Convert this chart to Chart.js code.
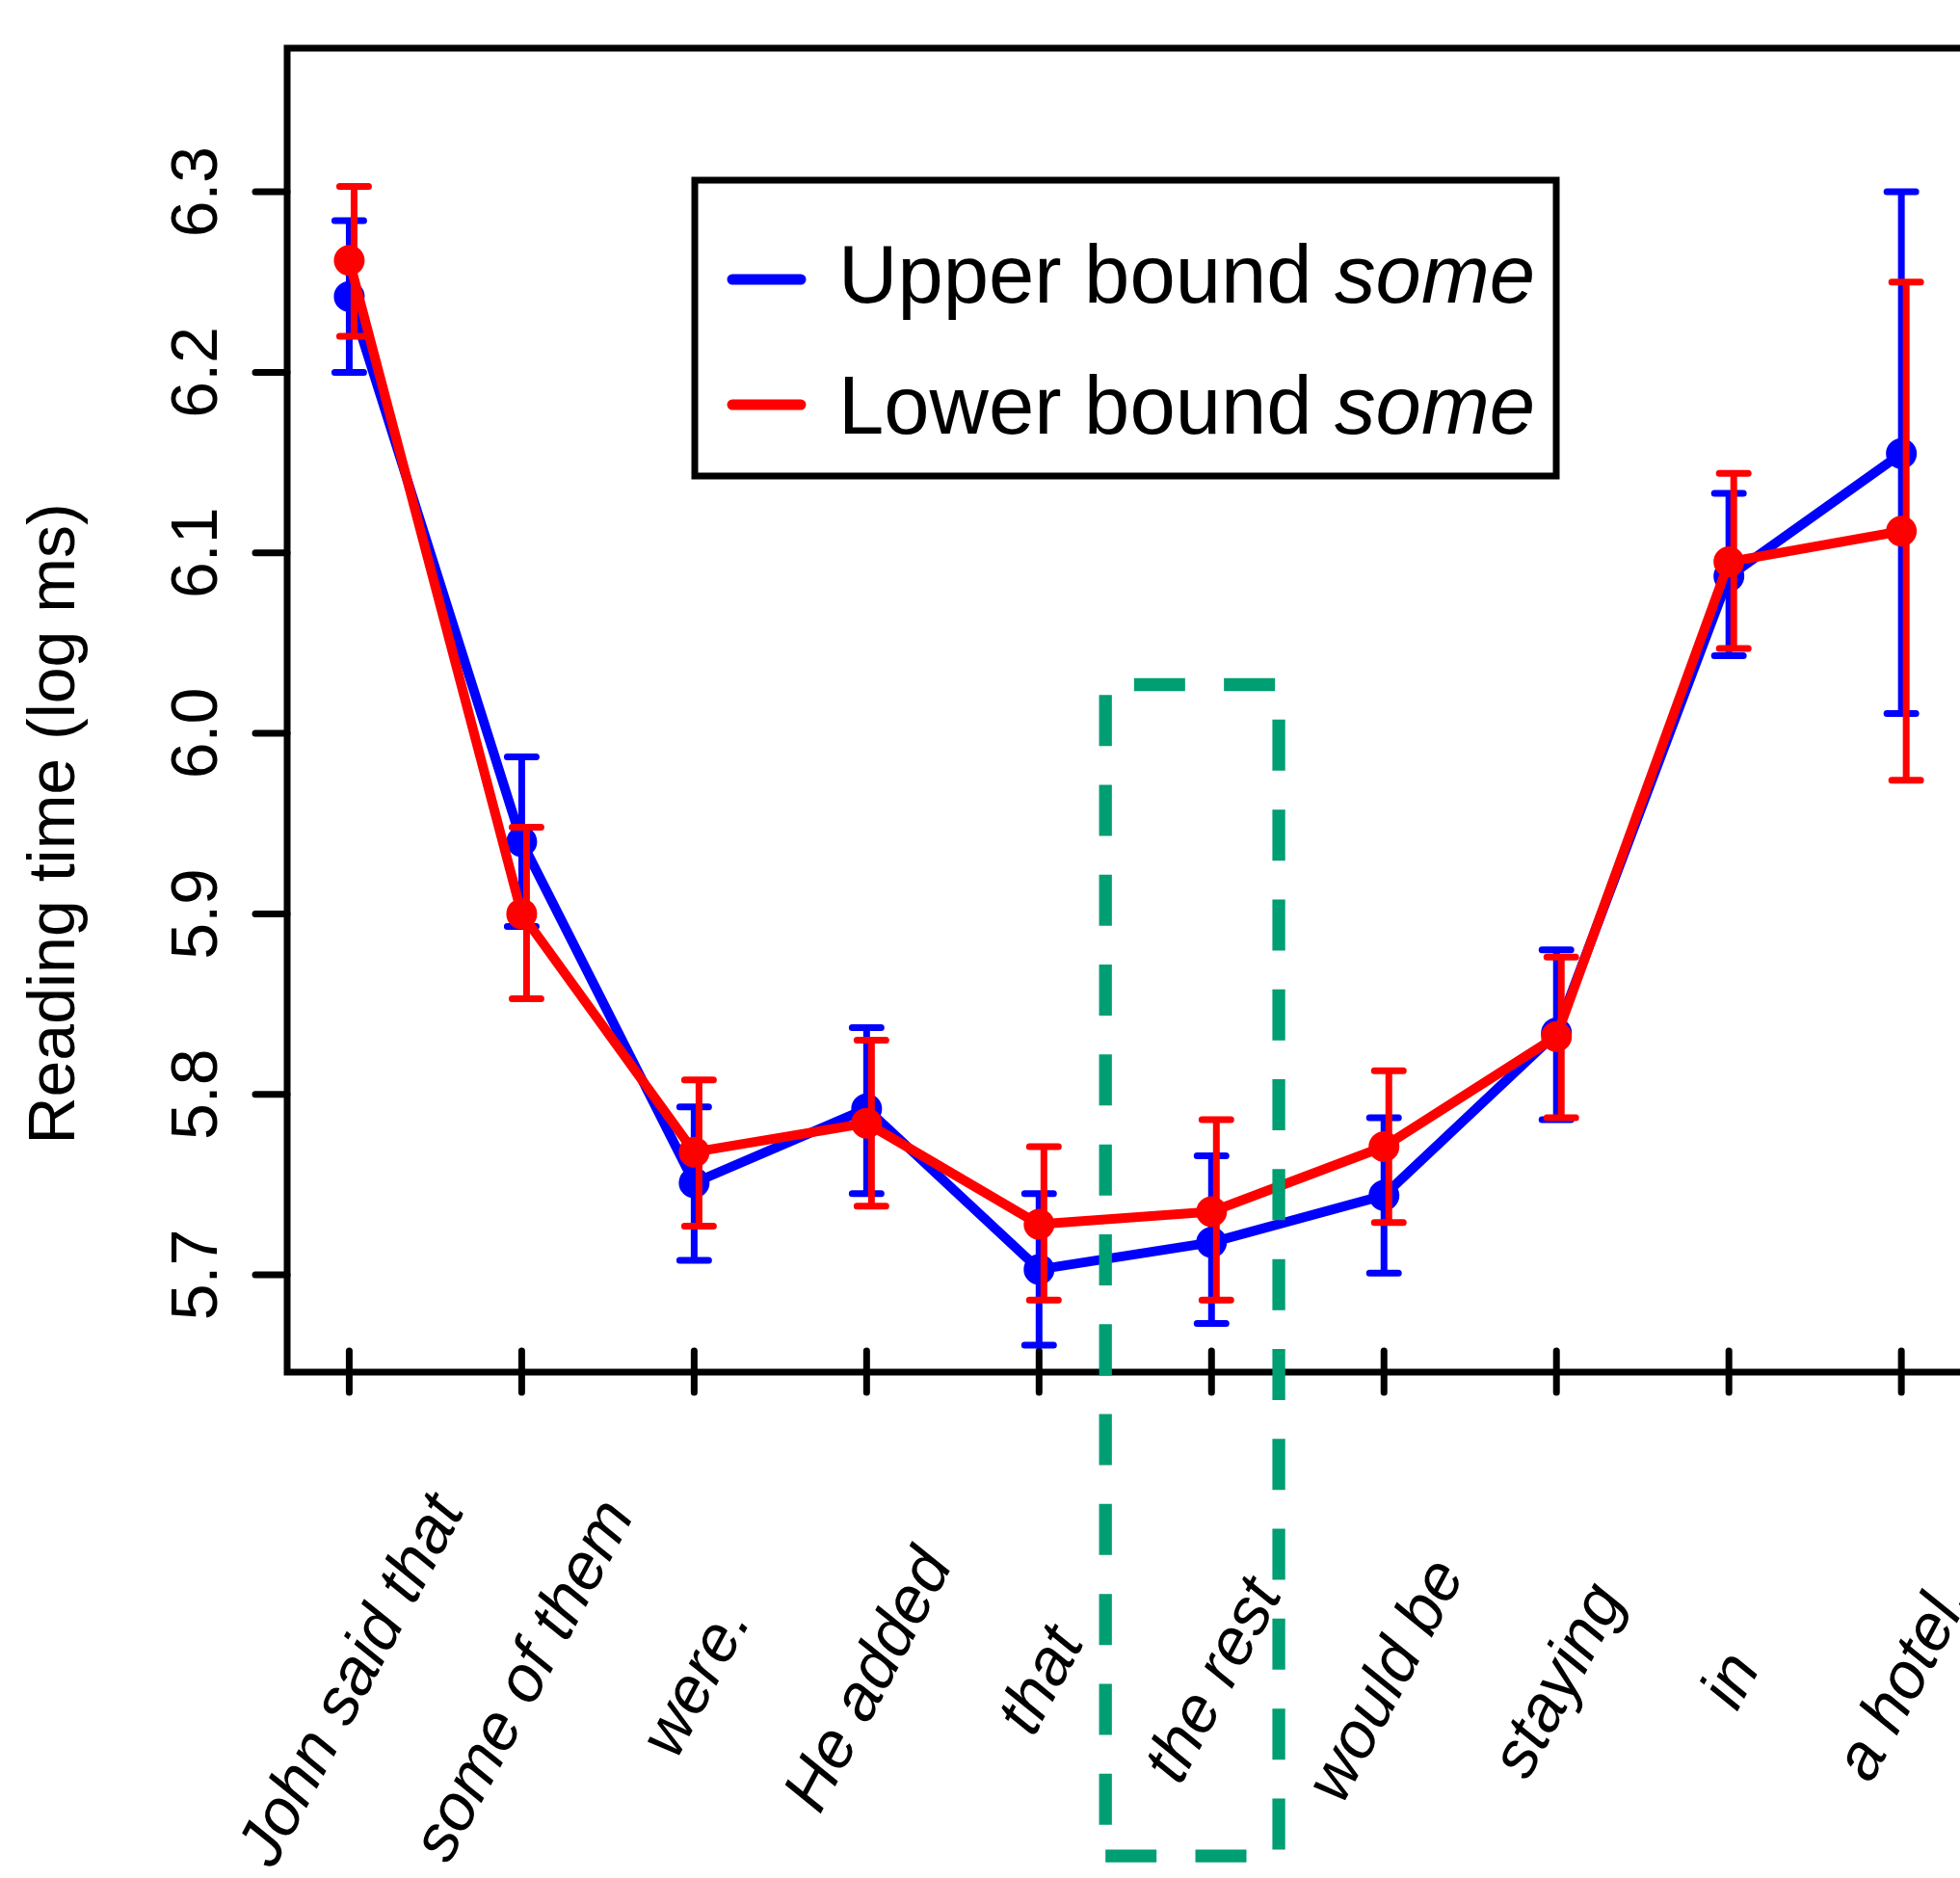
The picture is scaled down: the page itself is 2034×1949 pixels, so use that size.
<!DOCTYPE html>
<html>
<head>
<meta charset="utf-8">
<script src="https://cdn.jsdelivr.net/npm/chart.js@4.4.0/dist/chart.umd.min.js"></script>
<style>
  html, body { margin: 0; padding: 0; background: #fff; }
  #chart { display: block; }
</style>
</head>
<body>
<canvas id="chart" width="2034" height="1949"></canvas>
<script>
// sentence regions along the x axis
const regions = ["John said that", "some of them", "were.", "He added", "that",
                 "the rest", "would be", "staying", "in", "a hotel."];
const regionPos = [1, 2, 3, 4, 5, 6, 7, 8, 9, 10];

// Upper bound "some" (blue)
const upperMean = [6.242, 5.940, 5.751, 5.792, 5.703, 5.718, 5.744, 5.834, 6.087, 6.155];
const upperLo   = [6.200, 5.893, 5.708, 5.745, 5.661, 5.673, 5.701, 5.786, 6.043, 6.011];
const upperHi   = [6.284, 5.987, 5.793, 5.837, 5.745, 5.766, 5.787, 5.880, 6.133, 6.300];

// Lower bound "some" (red)
const lowerMean = [6.262, 5.900, 5.768, 5.784, 5.728, 5.735, 5.771, 5.832, 6.095, 6.112];
const lowerLo   = [6.220, 5.853, 5.727, 5.738, 5.686, 5.686, 5.729, 5.787, 6.047, 5.974];
const lowerHi   = [6.303, 5.948, 5.808, 5.830, 5.771, 5.786, 5.813, 5.876, 6.144, 6.250];

const yTicks = [5.7, 5.8, 5.9, 6.0, 6.1, 6.2, 6.3];
const yTickLabels = ["5.7", "5.8", "5.9", "6.0", "6.1", "6.2", "6.3"];

// critical region marked with the dashed box
const boxX = [5.385, 6.39];
const boxY = [5.378, 6.027];

const FONT = '"Liberation Sans", Arial, Helvetica, sans-serif';
const BLUE = "#0000ff";
const RED = "#ff0000";
const GREEN = "#009e73";

// error bars, drawn right after their own dataset
const errorBars = {
  id: "errorBars",
  afterDatasetDraw(chart, args) {
    const ds = chart.data.datasets[args.index];
    const { x, y } = chart.scales;
    const ctx = chart.ctx;
    ctx.save();
    ctx.strokeStyle = ds.borderColor;
    ctx.lineWidth = 7;
    ctx.lineCap = "round";
    ds.data.forEach((p, i) => {
      const px = x.getPixelForValue(p.x + ds.barShift);
      const top = y.getPixelForValue(ds.hi[i]);
      const bot = y.getPixelForValue(ds.lo[i]);
      ctx.beginPath();
      ctx.moveTo(px, top); ctx.lineTo(px, bot);
      ctx.moveTo(px - 15, top); ctx.lineTo(px + 15, top);
      ctx.moveTo(px - 15, bot); ctx.lineTo(px + 15, bot);
      ctx.stroke();
    });
    ctx.restore();
  }
};

// R-style frame, ticks and labels
const axes = {
  id: "axes",
  beforeDatasetsDraw(chart) {
    const { x, y } = chart.scales;
    const ctx = chart.ctx;
    const area = chart.chartArea;
    ctx.save();
    ctx.strokeStyle = "#000";
    ctx.fillStyle = "#000";
    ctx.lineWidth = 7;
    ctx.lineJoin = "miter";
    const right = x.getPixelForValue(10.36);
    ctx.strokeRect(area.left, area.top, right - area.left, area.bottom - area.top);

    ctx.lineCap = "round";
    ctx.beginPath();
    yTicks.forEach((v) => {
      const py = y.getPixelForValue(v);
      ctx.moveTo(area.left - 33, py); ctx.lineTo(area.left, py);
    });
    regionPos.forEach((v) => {
      const px = x.getPixelForValue(v);
      ctx.moveTo(px, area.bottom - 22); ctx.lineTo(px, area.bottom + 21);
    });
    ctx.stroke();

    // y tick labels, rotated like R's las=0
    ctx.font = `68px ${FONT}`;
    ctx.textAlign = "center";
    ctx.textBaseline = "alphabetic";
    yTicks.forEach((v, i) => {
      ctx.save();
      ctx.translate(225, y.getPixelForValue(v));
      ctx.rotate(-Math.PI / 2);
      ctx.fillText(yTickLabels[i], 0, 0);
      ctx.restore();
    });

    // y title
    ctx.save();
    ctx.translate(77, 855);
    ctx.rotate(-Math.PI / 2);
    ctx.fillText("Reading time (log ms)", 0, 0);
    ctx.restore();

    // slanted region labels
    ctx.font = `italic 68px ${FONT}`;
    ctx.textBaseline = "middle";
    regions.forEach((lab, i) => {
      ctx.save();
      ctx.translate(x.getPixelForValue(regionPos[i]) + 4, 1745);
      ctx.rotate(-62 * Math.PI / 180);
      ctx.fillText(lab, 0, 0);
      ctx.restore();
    });
    ctx.restore();
  },

  afterDraw(chart) {
    const { x, y } = chart.scales;
    const ctx = chart.ctx;
    ctx.save();

    // legend
    ctx.strokeStyle = "#000";
    ctx.lineWidth = 7;
    ctx.strokeRect(721, 187, 894, 307);
    const rows = [
      { color: BLUE, text: "Upper bound ", lineY: 290, base: 314 },
      { color: RED, text: "Lower bound ", lineY: 420, base: 450 }
    ];
    rows.forEach((r) => {
      ctx.strokeStyle = r.color;
      ctx.lineWidth = 11;
      ctx.lineCap = "round";
      ctx.beginPath();
      ctx.moveTo(760, r.lineY); ctx.lineTo(831, r.lineY);
      ctx.stroke();
      ctx.fillStyle = "#000";
      ctx.textAlign = "left";
      ctx.textBaseline = "alphabetic";
      ctx.font = `85px ${FONT}`;
      ctx.fillText(r.text, 870, r.base);
      const w = ctx.measureText(r.text).width;
      ctx.font = `italic 85px ${FONT}`;
      ctx.fillText("some", 870 + w, r.base);
    });

    // dashed box round the critical region
    const x0 = x.getPixelForValue(boxX[0]), x1 = x.getPixelForValue(boxX[1]);
    const yb = y.getPixelForValue(boxY[0]), yt = y.getPixelForValue(boxY[1]);
    ctx.strokeStyle = GREEN;
    ctx.lineWidth = 13.3;
    ctx.lineCap = "butt";
    ctx.setLineDash([53, 40.3]);
    ctx.beginPath();
    ctx.moveTo(x0, yb);
    ctx.lineTo(x1, yb);
    ctx.lineTo(x1, yt);
    ctx.lineTo(x0, yt);
    ctx.closePath();
    ctx.stroke();
    ctx.restore();
  }
};

new Chart(document.getElementById("chart"), {
  type: "scatter",
  data: {
    datasets: [
      {
        label: "Upper bound some",
        data: regionPos.map((x, i) => ({ x, y: upperMean[i] })),
        lo: upperLo,
        hi: upperHi,
        barShift: 0,
        borderColor: BLUE,
        backgroundColor: BLUE,
        borderWidth: 10,
        pointRadius: 15,
        pointBorderWidth: 2,
        pointBorderColor: BLUE,
        showLine: true,
        borderCapStyle: "round",
        borderJoinStyle: "round",
        clip: false,
        order: 1
      },
      {
        label: "Lower bound some",
        data: regionPos.map((x, i) => ({ x, y: lowerMean[i] })),
        lo: lowerLo,
        hi: lowerHi,
        barShift: 0.028,
        borderColor: RED,
        backgroundColor: RED,
        borderWidth: 10,
        pointRadius: 15,
        pointBorderWidth: 2,
        pointBorderColor: RED,
        showLine: true,
        borderCapStyle: "round",
        borderJoinStyle: "round",
        clip: false,
        order: 0
      }
    ]
  },
  options: {
    responsive: false,
    animation: false,
    devicePixelRatio: 1,
    layout: { autoPadding: false, padding: { left: 298, top: 50, right: 0, bottom: 525 } },
    plugins: { legend: { display: false }, tooltip: { enabled: false } },
    scales: {
      x: { type: "linear", min: 0.64, max: 10.34, display: false },
      y: { type: "linear", min: 5.6461, max: 6.3796, display: false }
    }
  },
  plugins: [axes, errorBars]
});
</script>
</body>
</html>
